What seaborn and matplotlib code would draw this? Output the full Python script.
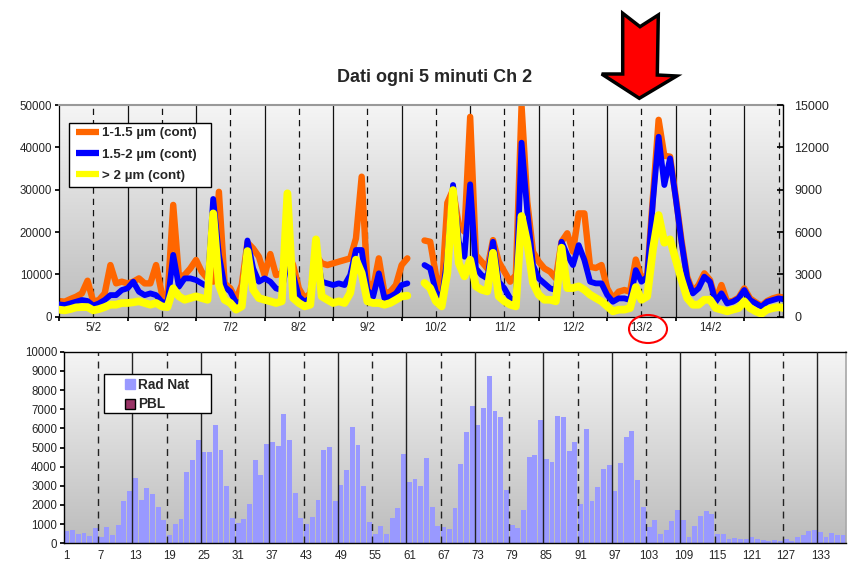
import numpy as np
import pandas as pd
import matplotlib
matplotlib.use("Agg")
import matplotlib.pyplot as plt
import seaborn as sns
from matplotlib.colors import LinearSegmentedColormap
from matplotlib.patches import Polygon, Ellipse, Patch, Rectangle
from matplotlib.lines import Line2D

nan = np.nan

# ---------------- data ----------------
title = "Dati ogni 5 minuti Ch 2"
day_labels = ["5/2", "6/2", "7/2", "8/2", "9/2", "10/2", "11/2", "12/2", "13/2", "14/2"]
series_names = ["1-1.5 µm (cont)", "1.5-2 µm (cont)", "> 2 µm (cont)"]

# 2-hour samples (days from start of 5/2)
orange_1_15 = [3700, 3550, 4170, 4720, 5500, 8500, 3550, 3940, 5500, 12200,
               7870, 8270, 7870, 8270, 9050, 7870, 7870, 12200, 5500, 4330,
               26400, 9450, 9840, 11400, 13400, 10600, 9050, 8270, 29500, 7870,
               6700, 4000, 7500, 17500, 16100, 14170, 9840, 14800, 9840, 10240,
               15350, 12200, 6690, 4330, 5500, 14570, 12600, 12200, 12600, 13000,
               13390, 13780, 18500, 33070, 8270, 6690, 13780, 5500, 5900, 7480,
               12200, 13780, nan, nan, 18000, 17700, 9840, 5500, 26900, 30000,
               21650, 20080, 47200, 14570, 13000, 11400, 18100, 13000, 10630, 8270,
               9840, 49800, 27200, 15350, 13000, 11400, 10630, 9050, 17700, 19700,
               15350, 24400, 24400, 11800, 11500, 12200, 6690, 4330, 5900, 6300,
               5900, 13500, 9050, 9840, 28300, 46500, 38000, 37800, 28350, 18100,
               9450, 5900, 7480, 10240, 8660, 3940, 7480, 3540, 3700, 4490,
               6690, 4330, 3390, 2600, 3700, 4330, 4720, 4500]
blue_15_2 = [2900, 2760, 3150, 3540, 3940, 3700, 2600, 3150, 3940, 5100,
             5100, 6300, 6700, 8270, 5900, 5100, 5500, 5100, 3540, 3150,
             14600, 7100, 9050, 9050, 8660, 7870, 7090, 27800, 14600, 7090,
             5900, 3300, 3540, 18000, 11400, 8270, 9050, 8270, 6690, 6300,
             13000, 9840, 4720, 3540, 4330, 16140, 8270, 7870, 7480, 7870,
             7480, 9840, 15750, 15750, 6300, 4720, 10240, 4330, 4720, 5510,
             7480, 7870, nan, nan, 12200, 11400, 5900, 3940, 13780, 31100,
             17700, 14170, 31260, 11400, 9840, 9050, 17700, 8270, 6690, 4330,
             3940, 41100, 24800, 12200, 9050, 7870, 6690, 6300, 17700, 14570,
             12200, 16900, 13390, 8270, 7870, 7870, 5120, 3540, 4330, 4330,
             3940, 11000, 8270, 9450, 27200, 42500, 31100, 37400, 27950, 17700,
             9050, 5510, 6690, 9450, 8270, 3540, 5510, 3150, 3540, 4330,
             6300, 3940, 3150, 2360, 3540, 3940, 4330, 4100]
# secondary (right) axis units
yellow_gt2 = [500, 450, 540, 660, 680, 680, 450, 540, 680, 850,
              850, 970, 970, 1020, 1090, 970, 850, 970, 730, 680,
              2010, 1440, 1200, 1320, 1440, 1320, 1200, 7320, 2250, 1200,
              970, 500, 730, 4650, 1910, 1320, 1200, 1090, 970, 1090,
              8740, 1320, 970, 730, 850, 5480, 1440, 1200, 970, 1090,
              970, 1680, 4040, 3090, 1090, 970, 970, 850, 970, 1200,
              1440, 1490, nan, nan, 2390, 2030, 1090, 730, 3090, 8970,
              3800, 2860, 4040, 2150, 1910, 1790, 4530, 1440, 1090, 850,
              730, 7130, 5220, 2390, 1560, 1200, 1200, 1090, 4890, 2030,
              2030, 2150, 1910, 1560, 1320, 1090, 730, 380, 500, 500,
              610, 2100, 1200, 1440, 4770, 7200, 5240, 5480, 4040, 2620,
              1320, 850, 850, 1200, 1200, 610, 500, 380, 500, 610,
              1090, 610, 380, 210, 500, 610, 680, 610]

rad_nat = [640, 700, 490, 540, 380, 800, 330, 850, 430, 960,
           2210, 2730, 3410, 2260, 2890, 2570, 1900, 1220, 430, 1010,
           1270, 3720, 4350, 5390, 4770, 4770, 6170, 4870, 2990, 1320,
           1060, 1270, 2050, 4350, 3570, 5180, 5290, 5080, 6750, 5390,
           2630, 1320, 1010, 1370, 2260, 4870, 5030, 2210, 3040, 3830,
           6070, 5130, 2990, 1110, 490, 900, 490, 1320, 1840, 4660,
           3200, 3360, 2990, 4450, 1900, 900, 850, 750, 1840, 4140,
           5810, 7170, 6170, 7060, 8730, 6900, 6590, 2780, 960, 800,
           1740, 4500, 4610, 6430, 4400, 4240, 6640, 6590, 4820, 5290,
           2050, 5970, 2210, 2940, 3880, 4090, 2730, 4190, 5550, 5860,
           3300, 1900, 850, 1220, 490, 700, 1170, 1740, 1220, 330,
           900, 1430, 1690, 1530, 490, 490, 230, 280, 230, 230,
           330, 230, 170, 100, 170, 120, 230, 120, 330, 430,
           640, 700, 590, 330, 540, 430, 430]
rad_index = list(range(1, len(rad_nat) + 1))
legend_b = ["Rad Nat", "PBL"]

# ---------------- style ----------------
sns.set_theme(style="white")
plt.rcParams["font.family"] = ["Liberation Sans", "DejaVu Sans"]

C_OR, C_BL, C_YE = "#FF6600", "#0000FF", "#FFFF00"
C_BAR, C_PBL = "#9999FF", "#993366"
grad_cmap = LinearSegmentedColormap.from_list("g", ["#bcbcbc", "#f5f5f5"])
TICK_FS = 8.3

W, H = 848, 565
fig = plt.figure(figsize=(W / 100, H / 100), dpi=100)


def fbox(x0, y0, x1, y1):
    return [x0 / W, 1 - y1 / H, (x1 - x0) / W, (y1 - y0) / H]


def fpt(x, y):
    return (x / W, 1 - y / H)


def gradient(ax, xlim, ylim):
    g = np.linspace(0, 1, 256).reshape(-1, 1)
    ax.imshow(g, extent=[xlim[0], xlim[1], ylim[0], ylim[1]], origin="lower",
              aspect="auto", cmap=grad_cmap, zorder=0)


def frame(ax, x0, y0, x1, y1):
    r = Rectangle(fpt(x0, y1), (x1 - x0) / W, (y1 - y0) / H, transform=fig.transFigure,
                  facecolor="white", edgecolor="black", lw=1.0, zorder=4.5, clip_on=False)
    ax.add_artist(r)


# ---------------- top chart ----------------
n = len(orange_1_15)
t = np.arange(n) / 12.0
O = np.array(orange_1_15, float)
B = np.array(blue_15_2, float)
Y = np.array(yellow_gt2, float)
seg = np.cumsum(np.isnan(O))
df = pd.DataFrame({"t": t, "O": O, "B": B, "Y": Y, "seg": seg}).dropna()

XMAX = 10.565
ax = fig.add_axes(fbox(59, 105, 783, 316.7))
gradient(ax, (0, XMAX), (0, 50000))
for d in range(1, 11):
    ax.axvline(d, color="#111111", lw=0.9, zorder=0.5)
for d in np.arange(0.5, 11, 1.0):
    ax.axvline(d, color="#111111", lw=0.9, ls=(0, (5, 4)), zorder=0.5)

sns.lineplot(data=df, x="t", y="O", units="seg", estimator=None, color=C_OR,
             lw=4.6, ax=ax, zorder=2)
sns.lineplot(data=df, x="t", y="B", units="seg", estimator=None, color=C_BL,
             lw=4.2, ax=ax, zorder=3)
ax.set_xlim(0, XMAX)
ax.set_ylim(0, 50000)
ax.set_yticks(range(0, 50001, 10000))
ax.set_xticks(range(0, 11))
ax.set_xticklabels([])
ax.set_xticks(np.arange(0.5, 10, 1.0), minor=True)
ax.set_xticklabels(day_labels, minor=True)
ax.tick_params(axis="x", which="major", length=3, direction="out", color="black", bottom=True)
ax.tick_params(axis="x", which="minor", length=0, labelsize=TICK_FS, pad=4, bottom=True)
ax.tick_params(axis="y", length=3, direction="out", labelsize=TICK_FS, color="black", left=True, pad=2)
ax.set_xlabel("")
ax.set_ylabel("")
for s in ["left", "bottom"]:
    ax.spines[s].set_color("black")
    ax.spines[s].set_linewidth(0.9)
ax.spines["top"].set_color("#999999")
ax.spines["top"].set_linewidth(1.5)
ax.spines["right"].set_visible(False)

ax2 = ax.twinx()
sns.lineplot(data=df, x="t", y="Y", units="seg", estimator=None, color=C_YE,
             lw=5.6, ax=ax2, zorder=4)
ax2.set_xlim(0, XMAX)
ax2.set_ylim(0, 15000)
ax2.set_yticks(range(0, 15001, 3000))
ax2.tick_params(axis="y", length=4, direction="in", labelsize=9, color="black", right=True, pad=8)
ax2.set_ylabel("")
ax2.spines["right"].set_color("black")
ax2.spines["right"].set_linewidth(1.0)
for s in ["top", "left", "bottom"]:
    ax2.spines[s].set_visible(False)

frame(ax2, 69, 123, 211, 187)
handles = [Line2D([], [], color=c, lw=4.5, solid_capstyle="butt") for c in (C_OR, C_BL, C_YE)]
leg = ax2.legend(handles, series_names, loc="upper left", bbox_to_anchor=fpt(76, 127),
                 bbox_transform=fig.transFigure, borderaxespad=0, borderpad=0,
                 frameon=False, prop={"weight": "bold", "size": 9.6},
                 handlelength=1.75, handletextpad=0.2, labelspacing=0.68)

fig.text(435 / W, 1 - 78 / H, title, ha="center", va="center", weight="bold", size=13)

# ---------------- bottom chart ----------------
axb = fig.add_axes(fbox(64, 351.7, 846, 543.3))
nb = len(rad_nat)
gradient(axb, (-0.5, nb - 0.5), (0, 10000))
sns.barplot(x=rad_index, y=rad_nat, color=C_BAR, saturation=1, width=0.86,
            linewidth=0, ax=axb, zorder=2)
for j, xb in enumerate(np.arange(5.5, nb - 1, 6)):
    if j % 2 == 0:
        axb.axvline(xb, color="#222222", lw=1.0, ls=(0, (5, 4)), zorder=3)
    else:
        axb.axvline(xb, color="#222222", lw=1.0, zorder=3)
axb.set_xlim(-0.5, nb - 0.5)
axb.set_ylim(0, 10000)
axb.set_yticks(range(0, 10001, 1000))
tick_pos = list(range(0, nb, 6))
axb.set_xticks(tick_pos)
axb.set_xticklabels([str(rad_index[p]) for p in tick_pos])
axb.tick_params(axis="x", length=0, labelsize=TICK_FS, pad=5)
axb.tick_params(axis="y", length=3, direction="out", labelsize=TICK_FS, left=True, color="black", pad=2)
axb.set_xlabel("")
axb.set_ylabel("")
for s in ["left", "bottom", "top"]:
    axb.spines[s].set_color("black")
    axb.spines[s].set_linewidth(1.0)
axb.spines["right"].set_color("#aaaaaa")

frame(axb, 104, 374, 211, 413)
bh = [Patch(facecolor=C_BAR, edgecolor=C_BAR), Patch(facecolor=C_PBL, edgecolor="black")]
legb = axb.legend(bh, legend_b, loc="upper left", bbox_to_anchor=fpt(125, 378),
                  bbox_transform=fig.transFigure, borderaxespad=0, borderpad=0,
                  frameon=False, prop={"weight": "bold", "size": 9.8},
                  handlelength=0.75, handleheight=0.75, handletextpad=0.2,
                  labelspacing=0.4)

# ---------------- annotations ----------------
arrow_px = [(622.7, 13.3), (640, 26.7), (658.3, 15), (657.3, 75), (676.7, 76),
            (639.3, 98.3), (601.7, 74), (622.7, 74)]
poly = Polygon([fpt(x, y) for x, y in arrow_px], closed=True,
               facecolor="#FF0000", edgecolor="black", lw=2.5,
               transform=fig.transFigure, joinstyle="miter")
fig.add_artist(poly)
ell = Ellipse(fpt(648, 329), width=38 / W, height=28 / H, fill=False,
              edgecolor="#FF0000", lw=1.5, transform=fig.transFigure)
fig.add_artist(ell)

fig.savefig("out.png", dpi=100)
